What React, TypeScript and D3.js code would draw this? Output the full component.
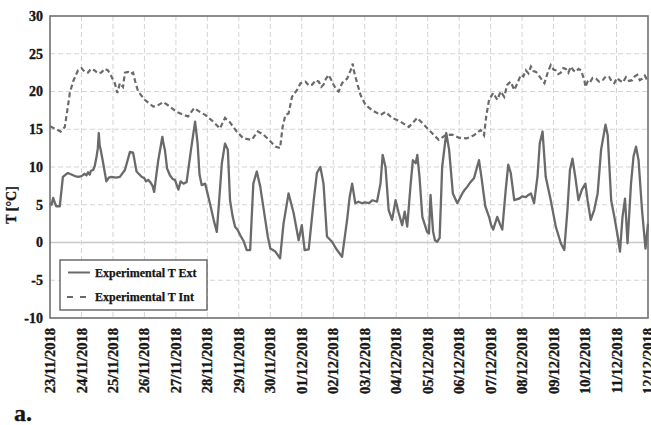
import React from "react";
import * as d3 from "d3";

// Day labels (tick at each day, offset 0..19)
const dayLabels = [
  "23/11/2018", "24/11/2018", "25/11/2018", "26/11/2018", "27/11/2018",
  "28/11/2018", "29/11/2018", "30/11/2018", "01/12/2018", "02/12/2018",
  "03/12/2018", "04/12/2018", "05/12/2018", "06/12/2018", "07/12/2018",
  "08/12/2018", "09/12/2018", "10/12/2018", "11/12/2018", "12/12/2018",
];
const yTicks = [-10, -5, 0, 5, 10, 15, 20, 25, 30];

// Experimental T Ext: time (days from 23/11) and value (°C)
const extTime = [
  0, 0.05, 0.1, 0.15, 0.2, 0.31, 0.41, 0.5, 0.57, 0.68, 0.79, 0.9, 1.0, 1.1, 1.16, 1.21, 1.26, 1.3, 1.37, 1.42, 1.48,
  1.52, 1.55, 1.58, 1.61, 1.69, 1.79, 1.87, 1.95, 2.1, 2.22,
  2.38, 2.54, 2.64, 2.75, 2.91, 3.0, 3.05, 3.12, 3.2, 3.26, 3.31, 3.44, 3.57, 3.6, 3.65, 3.72, 3.81, 3.9, 3.97, 4.08, 4.15, 4.24, 4.34,
  4.48, 4.61, 4.65, 4.69, 4.75, 4.82, 4.93, 5.08, 5.2, 5.3, 5.4, 5.46, 5.56, 5.65, 5.72, 5.8, 5.88, 5.96, 6.04, 6.15, 6.25,
  6.36, 6.46, 6.57, 6.68, 6.84, 6.92, 7.0, 7.16, 7.31, 7.42, 7.58, 7.74, 7.9, 8.0, 8.09, 8.22, 8.38,
  8.48, 8.59, 8.69, 8.8, 8.96, 9.12, 9.28, 9.44, 9.52, 9.6, 9.7, 9.8, 9.91, 10.02, 10.13, 10.25, 10.39, 10.5, 10.57,
  10.66, 10.76, 10.87, 10.98, 11.08, 11.19, 11.27, 11.35, 11.46, 11.53, 11.62, 11.67, 11.74, 11.83,
  11.98, 12.04, 12.09, 12.17, 12.23, 12.3, 12.38, 12.46, 12.59, 12.68, 12.8, 12.94, 13.1, 13.18, 13.26,
  13.36, 13.47, 13.63, 13.72, 13.83, 13.95, 14.01, 14.08, 14.21, 14.3, 14.37, 14.48, 14.56, 14.64, 14.75, 14.9,
  15.0, 15.12, 15.2, 15.28, 15.38, 15.49, 15.56, 15.65, 15.75, 15.91, 16.07, 16.23, 16.34, 16.44, 16.52, 16.6,
  16.69, 16.79, 16.9, 17.01, 17.08, 17.18, 17.29, 17.4, 17.51, 17.65, 17.72, 17.83, 17.93, 18.04,
  18.11, 18.19, 18.27, 18.35, 18.46, 18.54, 18.62, 18.7, 18.81, 18.92, 19.0,
];
const extValue = [
  5.2, 5.0, 5.9, 5.3, 4.8, 4.8, 8.7, 9.0, 9.2, 9.0, 8.8, 8.7, 8.8, 9.1, 8.9, 9.3, 9.0, 9.5, 9.6, 10.1, 11.4,
  12.5, 14.5, 12.8, 12.3, 10.5, 8.1, 8.6, 8.7, 8.6, 8.7,
  9.6, 12.0, 11.9, 9.4, 8.7, 8.5, 8.1, 8.3, 7.9, 7.5, 6.7, 10.9, 14.0, 13.2, 12.3, 9.8, 8.9, 8.4, 8.3, 7.0, 8.1, 7.8, 8.0,
  12.3, 16.0, 14.6, 13.1, 9.0, 7.6, 7.8, 5.2, 3.0, 1.4, 7.0, 10.5, 13.1, 12.3, 5.6, 3.5, 2.1, 1.7, 1.0, 0.2, -1.0,
  -1.0, 7.8, 9.4, 7.4, 3.0, 0.8, -0.8, -1.2, -2.1, 2.5, 6.5, 3.9, 0.3, 2.3, -1.0, -0.9, 5.6,
  9.2, 10.0, 7.8, 0.8, 0.1, -1.0, -1.9, 3.0, 6.0, 7.8, 5.2, 5.4, 5.2, 5.3, 5.2, 5.6, 5.4, 7.8, 11.6,
  10.0, 4.3, 3.0, 5.6, 3.9, 2.3, 4.1, 2.1, 7.8, 10.9, 10.5, 11.6, 8.7, 3.4,
  1.4, 1.2, 6.3, 1.5, 0.3, 0.1, 0.6, 10.0, 14.5, 12.3, 6.5, 5.2, 6.5, 7.0, 7.4,
  8.0, 8.5, 10.9, 8.3, 4.8, 3.4, 2.4, 1.7, 3.4, 2.4, 1.7, 7.0, 10.3, 9.2, 5.6, 5.8,
  6.1, 6.0, 6.3, 6.5, 5.2, 8.8, 13.1, 14.7, 8.7, 5.6, 2.1, -0.1, -1.0, 4.3, 9.6, 11.1,
  8.7, 5.6, 7.0, 7.8, 5.6, 3.0, 4.3, 6.5, 12.3, 15.6, 14.2, 5.6, 3.4, 0.8,
  -1.2, 3.4, 5.8, -0.1, 7.8, 11.4, 12.7, 10.9, 4.3, -0.8, 2.5,
];

// Experimental T Int
const intTime = [
  0, 0.15, 0.34, 0.47, 0.55, 0.63, 0.73, 0.89, 1.0, 1.1, 1.21, 1.3, 1.42, 1.52, 1.63, 1.73, 1.84, 1.95, 2.06,
  2.14, 2.22, 2.32, 2.38, 2.48, 2.56, 2.64, 2.71, 2.8, 3.01, 3.28, 3.44, 3.6, 3.81, 4.02, 4.24, 4.39,
  4.58, 4.76, 4.93, 5.19, 5.4, 5.56, 5.72, 5.93, 6.14, 6.41, 6.6, 6.78, 7.0, 7.16, 7.31, 7.39, 7.48,
  7.58, 7.69, 7.85, 7.96, 8.12, 8.22, 8.33, 8.44, 8.54, 8.62, 8.69, 8.77, 8.85, 8.93, 9.01, 9.1, 9.17, 9.28,
  9.44, 9.55, 9.62, 9.65, 9.76, 9.87, 10.03, 10.24, 10.5, 10.66, 10.87, 11.14, 11.4, 11.67, 11.88,
  12.09, 12.35, 12.56, 12.77, 12.98, 13.24, 13.47, 13.68, 13.79, 13.86, 13.95, 14.08, 14.21, 14.32,
  14.43, 14.53, 14.64, 14.75, 14.85, 14.96, 15.04, 15.12, 15.2, 15.28, 15.36, 15.44, 15.55, 15.71, 15.82,
  15.91, 16.0, 16.07, 16.15, 16.23, 16.31, 16.39, 16.47, 16.55, 16.63, 16.71, 16.79, 16.87, 16.98, 17.01,
  17.08, 17.14, 17.24, 17.35, 17.45, 17.56, 17.66, 17.77, 17.85, 17.93, 18.01, 18.09, 18.2, 18.3,
  18.4, 18.5, 18.58, 18.66, 18.74, 18.82, 18.9, 19.0,
];
const intValue = [
  15.4, 15.1, 14.7, 15.3, 17.5, 19.8, 21.3, 22.8, 23.1, 22.6, 22.5, 23.0, 22.8, 22.4, 22.5, 23.0, 22.8, 22.0, 21.1,
  19.8, 21.1, 20.6, 22.5, 22.6, 22.3, 22.5, 21.3, 20.0, 18.9, 18.0, 18.2, 18.6, 18.0, 17.3, 16.9, 16.7,
  17.8, 17.3, 16.9, 16.0, 15.1, 16.5, 15.9, 14.7, 13.8, 13.6, 14.7, 14.3, 13.4, 12.7, 12.5, 15.3, 16.9,
  17.1, 19.3, 20.2, 21.1, 21.3, 20.8, 20.9, 21.5, 21.3, 20.6, 20.9, 21.7, 22.2, 21.6, 20.9, 20.2, 20.0, 21.1,
  21.7, 22.8, 23.7, 22.8, 21.1, 19.5, 18.2, 17.5, 16.9, 17.3, 16.5, 16.0, 15.3, 16.5, 15.6,
  14.7, 13.6, 14.2, 14.3, 13.9, 13.8, 14.2, 14.9, 14.2, 16.7, 18.9, 19.8, 18.9, 20.0,
  19.3, 20.9, 21.3, 20.2, 21.1, 22.2, 22.0, 22.8, 22.4, 23.3, 22.7, 22.6, 22.0, 21.1, 22.6,
  23.5, 22.9, 22.8, 22.3, 22.5, 23.1, 23.0, 22.5, 23.3, 22.8, 22.6, 23.0, 22.8, 21.5, 20.6,
  21.3, 21.1, 21.8, 21.7, 21.3, 21.5, 22.0, 21.9, 21.3, 21.1, 21.8, 21.5, 21.2, 21.9,
  21.4, 21.5, 22.0, 22.2, 21.5, 21.7, 22.1, 21.3,
];

const W = 651;
const H = 425;
const M = { left: 50, right: 648, top: 16, bottom: 318 };
const FONT = "'Liberation Serif', 'Times New Roman', serif";
const LINE = "#6a6a6a";
const INK = "#151515";

export default function App() {
  const x = d3.scaleLinear().domain([0, 19]).range([M.left, M.right]);
  const y = d3.scaleLinear().domain([-10, 30]).range([M.bottom, M.top]);

  const extData = extTime.map((t, i) => [t, extValue[i]] as [number, number]);
  const intData = intTime.map((t, i) => [t, intValue[i]] as [number, number]);
  const line = d3
    .line<[number, number]>()
    .x((d) => x(d[0]))
    .y((d) => y(d[1]));

  const bold = { fontWeight: "bold" as const, fill: INK, stroke: INK, strokeWidth: 0.35 };

  return (
    <svg
      width={W}
      height={H}
      style={{ position: "absolute", left: 0, top: 0, background: "#fff" }}
      fontFamily={FONT}
    >
      {/* horizontal grid */}
      {yTicks.map((t) =>
        t === -10 || t === 30 ? null : (
          <line
            key={"hy" + t}
            x1={M.left}
            x2={M.right}
            y1={y(t)}
            y2={y(t)}
            stroke={t === 0 ? "#c8c8c8" : "#d4d4d4"}
            strokeWidth={t === 0 ? 1.5 : 1}
            strokeDasharray={t === 0 ? undefined : "5,3"}
          />
        )
      )}
      {/* vertical grid */}
      {dayLabels.map((_, i) =>
        i === 0 || i === 19 ? null : (
          <line
            key={"vx" + i}
            x1={x(i)}
            x2={x(i)}
            y1={M.top}
            y2={M.bottom}
            stroke="#d4d4d4"
            strokeWidth={1}
            strokeDasharray="5,3"
          />
        )
      )}

      {/* series */}
      <path d={line(intData) || ""} fill="none" stroke={LINE} strokeWidth={2.2} strokeDasharray="5,3" />
      <path d={line(extData) || ""} fill="none" stroke={LINE} strokeWidth={2.3} strokeLinejoin="round" />

      {/* plot border */}
      <rect
        x={M.left}
        y={M.top}
        width={M.right - M.left}
        height={M.bottom - M.top}
        fill="none"
        stroke="#707070"
        strokeWidth={1.6}
      />

      {/* y tick labels */}
      {yTicks.map((t) => (
        <text key={"yl" + t} x={43} y={y(t)} dy="0.35em" textAnchor="end" fontSize={14} {...bold}>
          {t}
        </text>
      ))}
      <text transform={`translate(16,205) rotate(-90)`} textAnchor="middle" fontSize={14} {...bold}>
        T [°C]
      </text>

      {/* x tick labels */}
      {dayLabels.map((lab, i) => (
        <text
          key={"xl" + i}
          transform={`translate(${x(i)},${M.bottom + 10}) rotate(-90)`}
          textAnchor="end"
          dy="0.35em"
          fontSize={14.5}
          {...bold}
        >
          {lab}
        </text>
      ))}

      {/* legend */}
      <rect x={60} y={260} width={147} height={50} fill="#fff" stroke="#555" strokeWidth={1.3} />
      <line x1={68} x2={90} y1={272.5} y2={272.5} stroke={LINE} strokeWidth={2} />
      <text x={95} y={272.5} dy="0.35em" fontSize={12} {...bold} strokeWidth={0.25}>
        Experimental T Ext
      </text>
      <line x1={67} x2={86} y1={297} y2={297} stroke={LINE} strokeWidth={2} strokeDasharray="6,7" />
      <text x={95} y={297} dy="0.35em" fontSize={12} {...bold} strokeWidth={0.25}>
        Experimental T Int
      </text>

      <text x={14} y={421} fontSize={24} {...bold}>
        a.
      </text>
    </svg>
  );
}
